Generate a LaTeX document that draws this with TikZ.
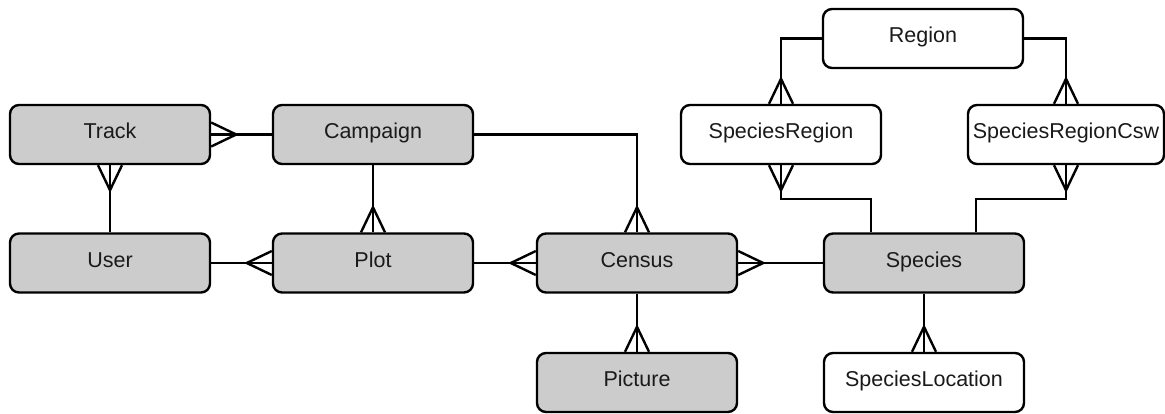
\documentclass[tikz,border=0pt]{standalone}
\usepackage{fontspec}
\setmainfont{Liberation Sans}
\usetikzlibrary{calc}
\definecolor{boxgray}{HTML}{CCCCCC}
\definecolor{txt}{HTML}{1A1A1A}
\tikzset{
  ent/.style={draw=black, line width=2.4pt, rounded corners=9pt, minimum width=200pt, minimum height=59pt,
    inner sep=2pt, text height=15pt, text depth=6.5pt, font=\fontsize{21.5}{25}\selectfont, text=txt},
  core/.style={ent, fill=boxgray},
  aux/.style={ent, fill=white},
  conn/.style={draw=black, line width=2.4pt},
  crow/.pic={\draw[conn, line join=miter] (0,-12) -- (25,0) -- (0,12);}
}
\begin{document}
\begin{tikzpicture}[x=1pt, y=-1pt]
\useasboundingbox (0,0) rectangle (1165,413);
% nodes
\node[core] (track) at (110,134.5) {Track};
\node[core] (campaign) at (373,134.5) {Campaign};
\node[core] (user) at (110,263) {User};
\node[core] (plot) at (373,263) {Plot};
\node[core] (census) at (637,263) {Census};
\node[core] (species) at (924,263) {Species};
\node[core] (picture) at (637,382.5) {Picture};
\node[aux] (loc) at (924,382.5) {SpeciesLocation};
\node[aux] (region) at (923,38.5) {Region};
\node[aux] (sregion) at (781,134.5) {SpeciesRegion};
\node[aux, minimum width=196pt] (sregioncsw) at (1066,134.5) {SpeciesRegionCsw};
% connectors
\draw[conn] (track.east) -- (campaign.west);
\pic at (track.east) {crow};
\draw[conn] (track.south) -- (user.north);
\pic[rotate=-90] at (track.south) {crow};
\draw[conn] (campaign.south) -- (plot.north);
\pic[rotate=90] at (plot.north) {crow};
\draw[conn] (user.east) -- (plot.west);
\pic[rotate=180] at (plot.west) {crow};
\draw[conn] (campaign.east) -| (census.north);
\pic[rotate=90] at (census.north) {crow};
\draw[conn] (plot.east) -- (census.west);
\pic[rotate=180] at (census.west) {crow};
\draw[conn] (census.east) -- (species.west);
\pic at (census.east) {crow};
\draw[conn] (census.south) -- (picture.north);
\pic[rotate=90] at (picture.north) {crow};
\draw[conn] (species.south) -- (loc.north);
\pic[rotate=90] at (loc.north) {crow};
\draw[conn] (region.west) -| (sregion.north);
\pic[rotate=90] at (sregion.north) {crow};
\draw[conn] (region.east) -| (sregioncsw.north);
\pic[rotate=90] at (sregioncsw.north) {crow};
\draw[conn] (sregion.south) -- ++(0,34) -| ([xshift=-53pt]species.north);
\pic[rotate=-90] at (sregion.south) {crow};
\draw[conn] (sregioncsw.south) -- ++(0,34) -| ([xshift=52pt]species.north);
\pic[rotate=-90] at (sregioncsw.south) {crow};
\end{tikzpicture}
\end{document}
